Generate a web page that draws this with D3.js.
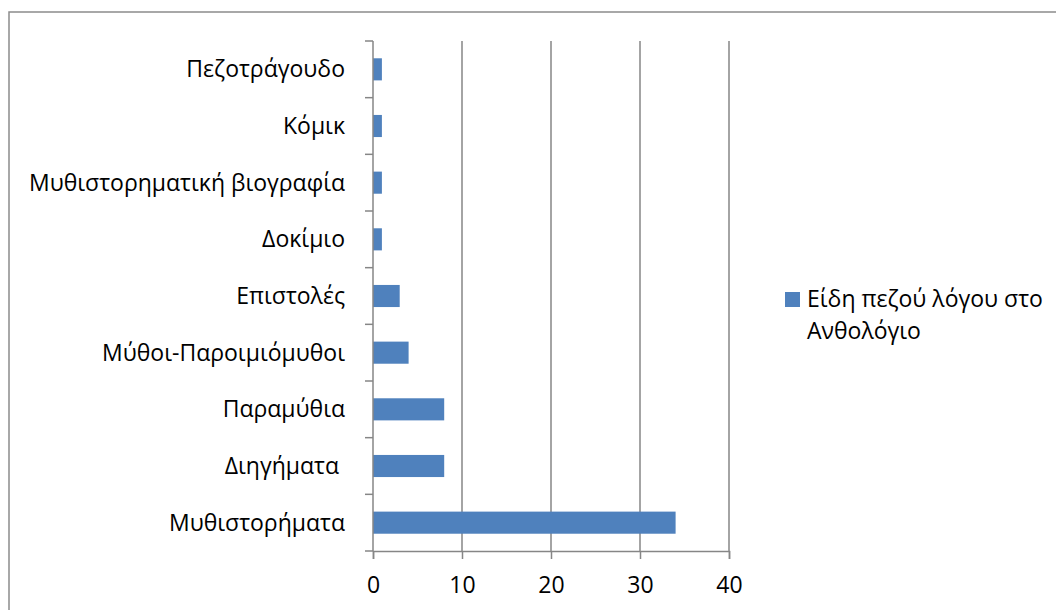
<!DOCTYPE html>
<html>
<head>
<meta charset="utf-8">
<script src="https://cdn.jsdelivr.net/npm/d3@7"></script>
<style>
  body { margin: 0; background: #fff; }
  svg text { font-family: "Open Sans", "Noto Sans", sans-serif; fill: #000; white-space: pre; }
</style>
</head>
<body>
<svg id="chart" width="1056" height="610"></svg>
<script>
// data (top to bottom as shown)
var categories = ["Πεζοτράγουδο", "Κόμικ", "Μυθιστορηματική βιογραφία", "Δοκίμιο",
  "Επιστολές", "Μύθοι-Παροιμιόμυθοι", "Παραμύθια", "Διηγήματα ", "Μυθιστορήματα"];
var values = [1, 1, 1, 1, 3, 4, 8, 8, 34];
var xTicks = [0, 10, 20, 30, 40];
var seriesName = ["Είδη πεζού λόγου στο", "Ανθολόγιο"];

var svg = d3.select("svg#chart"),
    margin = {top: 41, left: 373},
    width = 729 - 373,
    height = 551 - 41;

var barColor = "#4f81bd",
    gridColor = "#868686",
    fontSize = 23;

// chart border
svg.append("rect")
  .attr("x", 9).attr("y", 12)
  .attr("width", 1100).attr("height", 700)
  .attr("fill", "none")
  .attr("stroke", "#8c8c8c")
  .attr("stroke-width", 1.5);

var g = svg.append("g")
  .attr("transform", "translate(" + margin.left + "," + margin.top + ")");

var x = d3.scaleLinear().domain([0, 40]).range([0, width]);
var y = d3.scaleBand().domain(categories).range([0, height])
  .paddingInner(0.61).paddingOuter(0.305);
var yb = d3.scaleLinear().domain([0, categories.length]).range([0, height]);

// gridlines
g.selectAll("line.grid")
  .data(xTicks.filter(function(d) { return d > 0; }))
  .enter().append("line")
  .attr("class", "grid")
  .attr("x1", function(d) { return x(d); })
  .attr("x2", function(d) { return x(d); })
  .attr("y1", 0).attr("y2", height)
  .attr("stroke", gridColor)
  .attr("stroke-width", 1.5);

// bars
g.selectAll("rect.bar")
  .data(values)
  .enter().append("rect")
  .attr("class", "bar")
  .attr("x", x(0))
  .attr("y", function(d, i) { return y(categories[i]); })
  .attr("width", function(d) { return x(d) - x(0); })
  .attr("height", y.bandwidth())
  .attr("fill", barColor);

// x axis
var xAxis = g.append("g")
  .attr("transform", "translate(0," + height + ")")
  .call(d3.axisBottom(x).tickValues(xTicks).tickSize(8).tickPadding(18));
xAxis.select(".domain").attr("stroke", gridColor).attr("stroke-width", 1.5);
xAxis.selectAll(".tick line").attr("stroke", gridColor).attr("stroke-width", 1.5);
xAxis.selectAll("text").attr("font-size", fontSize).attr("fill", "#000");

// y axis line and category ticks
g.append("line")
  .attr("x1", 0).attr("x2", 0).attr("y1", 0).attr("y2", height)
  .attr("stroke", gridColor).attr("stroke-width", 1.5);
g.selectAll("line.ytick")
  .data(d3.range(categories.length + 1))
  .enter().append("line")
  .attr("class", "ytick")
  .attr("x1", -8).attr("x2", 0)
  .attr("y1", function(d) { return yb(d); })
  .attr("y2", function(d) { return yb(d); })
  .attr("stroke", gridColor).attr("stroke-width", 1.5);

g.selectAll("text.cat")
  .data(categories)
  .enter().append("text")
  .attr("class", "cat")
  .attr("x", -28)
  .attr("y", function(d) { return y(d) + y.bandwidth() / 2; })
  .attr("dy", "0.35em")
  .attr("text-anchor", "end")
  .attr("font-size", fontSize)
  .text(function(d) { return d; });

// legend
var legend = svg.append("g").attr("transform", "translate(785,292)");
legend.append("rect")
  .attr("width", 15).attr("height", 15)
  .attr("fill", barColor);
legend.selectAll("text")
  .data(seriesName)
  .enter().append("text")
  .attr("x", 22)
  .attr("y", function(d, i) { return 15 + i * 32; })
  .attr("font-size", fontSize)
  .text(function(d) { return d; });
</script>
</body>
</html>
